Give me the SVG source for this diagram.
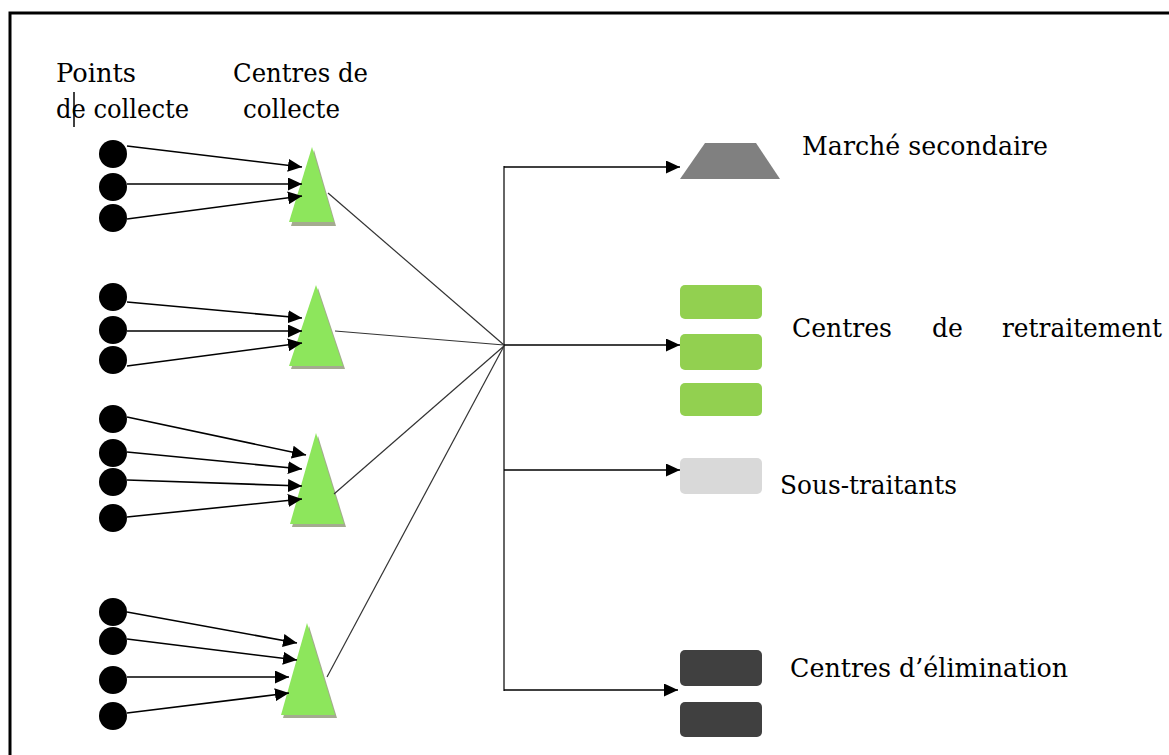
<svg xmlns="http://www.w3.org/2000/svg" width="1169" height="755" viewBox="0 0 1169 755">
<defs>
<style>
.lbl{font-family:'DejaVu Serif','Liberation Serif',serif;font-size:26px;fill:#000}
.pt{fill:#000}
.tri{fill:#8de65c}
.sh{fill:#a4ab8f}
.a{stroke:#000;stroke-width:1.6;fill:none;marker-end:url(#ah)}
.h{stroke:#333;stroke-width:1.2;fill:none}
</style>
<marker id="ah" markerUnits="userSpaceOnUse" markerWidth="14" markerHeight="13" refX="14" refY="6.5" orient="auto" viewBox="0 0 14 13">
<path d="M0,0 L14,6.5 L0,13 z" fill="#000"/>
</marker>
</defs>
<rect width="1169" height="755" fill="#fff"/>
<path d="M10,760 L10,13 L1175,13" fill="none" stroke="#000" stroke-width="3"/>

<g id="headers">
<text class="lbl" x="56" y="82" textLength="80" lengthAdjust="spacingAndGlyphs">Points</text>
<text class="lbl" x="56" y="118" textLength="133" lengthAdjust="spacingAndGlyphs">de collecte</text>
<line x1="74" y1="92" x2="74" y2="127" stroke="#000" stroke-width="1.5"/>
<text class="lbl" x="233" y="82" textLength="135" lengthAdjust="spacingAndGlyphs">Centres de</text>
<text class="lbl" x="243" y="118" textLength="97" lengthAdjust="spacingAndGlyphs">collecte</text>
</g>

<g id="points1">
<circle class="pt" cx="113" cy="154" r="14"/>
<circle class="pt" cx="113" cy="187" r="14"/>
<circle class="pt" cx="113" cy="218" r="14"/>
</g>
<g id="points2">
<circle class="pt" cx="113" cy="297" r="14"/>
<circle class="pt" cx="113" cy="330" r="14"/>
<circle class="pt" cx="113" cy="360" r="14"/>
</g>
<g id="points3">
<circle class="pt" cx="113" cy="419" r="14"/>
<circle class="pt" cx="113" cy="453" r="14"/>
<circle class="pt" cx="113" cy="482" r="14"/>
<circle class="pt" cx="113" cy="518" r="14"/>
</g>
<g id="points4">
<circle class="pt" cx="113" cy="612" r="14"/>
<circle class="pt" cx="113" cy="641" r="14"/>
<circle class="pt" cx="113" cy="680" r="14"/>
<circle class="pt" cx="113" cy="716" r="14"/>
</g>

<g id="centre1">
<polygon class="sh" points="314,150 291,226 336,226"/>
<polygon class="tri" points="312,147 289,222 334,222"/>
</g>
<g id="centre2">
<polygon class="sh" points="318,288 291,369 345,369"/>
<polygon class="tri" points="316,285 289,366 343,366"/>
</g>
<g id="centre3">
<polygon class="sh" points="318,436 292,527 346,527"/>
<polygon class="tri" points="316,433 290,524 344,524"/>
</g>
<g id="centre4">
<polygon class="sh" points="309,626 283,718 337,718"/>
<polygon class="tri" points="307,623 281,715 335,715"/>
</g>

<g id="marche">
<polygon points="705,143 756,143 780,179 680,179" fill="#808080"/>
<text class="lbl" x="802" y="155" textLength="246" lengthAdjust="spacingAndGlyphs">Marché secondaire</text>
</g>
<g id="retraitement">
<rect x="680" y="285" width="82" height="34" rx="5" fill="#92d050"/>
<rect x="680" y="334" width="82" height="36" rx="5" fill="#92d050"/>
<rect x="680" y="383" width="82" height="33" rx="5" fill="#92d050"/>
<text class="lbl" y="337"><tspan x="792" textLength="100" lengthAdjust="spacingAndGlyphs">Centres</tspan><tspan x="932" textLength="31" lengthAdjust="spacingAndGlyphs">de</tspan><tspan x="1002" textLength="160" lengthAdjust="spacingAndGlyphs">retraitement</tspan></text>
</g>
<g id="soustraitants">
<rect x="680" y="458" width="82" height="36" rx="5" fill="#d9d9d9"/>
<text class="lbl" x="780" y="494" textLength="177" lengthAdjust="spacingAndGlyphs">Sous-traitants</text>
</g>
<g id="elimination">
<rect x="680" y="650" width="82" height="36" rx="5" fill="#404040"/>
<rect x="680" y="702" width="82" height="35" rx="5" fill="#404040"/>
<text class="lbl" x="790" y="677" textLength="278" lengthAdjust="spacingAndGlyphs">Centres d’élimination</text>
</g>

<g id="connectors">
<line class="a" x1="127" y1="146" x2="302" y2="167"/>
<line class="a" x1="127" y1="184" x2="302" y2="184"/>
<line class="a" x1="127" y1="219" x2="302" y2="196"/>

<line class="a" x1="127" y1="302" x2="302" y2="318"/>
<line class="a" x1="127" y1="331" x2="302" y2="331"/>
<line class="a" x1="127" y1="366" x2="302" y2="343"/>

<line class="a" x1="127" y1="417" x2="306" y2="455"/>
<line class="a" x1="127" y1="452" x2="302" y2="469"/>
<line class="a" x1="127" y1="480" x2="302" y2="486"/>
<line class="a" x1="127" y1="517" x2="302" y2="499"/>

<line class="a" x1="127" y1="612" x2="297" y2="643"/>
<line class="a" x1="127" y1="639" x2="297" y2="660"/>
<line class="a" x1="127" y1="677" x2="289" y2="677"/>
<line class="a" x1="127" y1="713" x2="289" y2="693"/>

<line class="h" x1="328" y1="193" x2="504" y2="345"/>
<line class="h" x1="335" y1="331" x2="504" y2="345"/>
<line class="h" x1="334" y1="494" x2="504" y2="346"/>
<line class="h" x1="327" y1="677" x2="504" y2="346"/>

<line x1="504" y1="166" x2="504" y2="691" stroke="#333" stroke-width="1.5"/>
<line class="a" x1="504" y1="167" x2="680" y2="167"/>
<line class="a" x1="504" y1="345" x2="680" y2="345"/>
<line class="a" x1="504" y1="470" x2="680" y2="470"/>
<line class="a" x1="504" y1="690" x2="678" y2="690"/>
</g>
</svg>
